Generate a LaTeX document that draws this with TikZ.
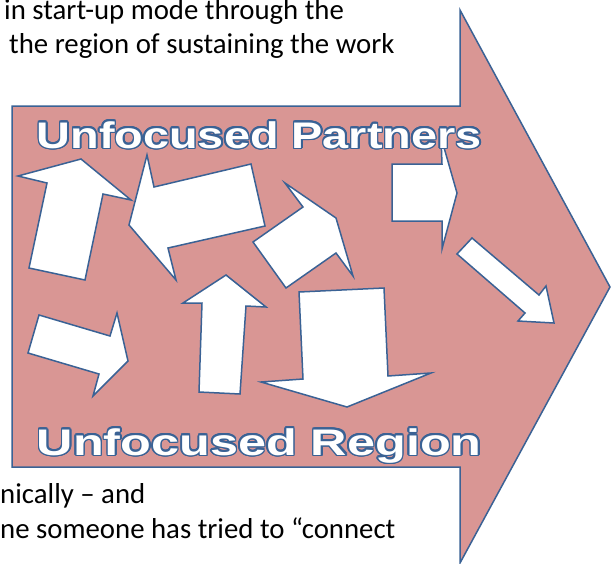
\documentclass[tikz,border=0pt]{standalone}
\usepackage{fontspec}
\usepackage{graphicx}
\setmainfont{Carlito}
\newfontfamily\wafont{Liberation Sans}
\definecolor{pinkfill}{HTML}{D99694}
\definecolor{outl}{HTML}{3A6295}
\newcommand\outlinedtext[1]{%
  \foreach \a in {0,22.5,...,337.5}{%
    \pgfmathsetmacro\wadx{1.5*cos(\a)}%
    \pgfmathsetmacro\wady{1.5*sin(\a)}%
    \rlap{\hspace*{\wadx pt}\raisebox{\wady pt}{\color{outl}#1}}%
  }%
  {\color{white}#1}}
\begin{document}
\begin{tikzpicture}[x=1pt,y=-1pt,
  blockarrow/.style={fill=white,draw=outl,line width=1.5pt,line join=miter},
  bigarrow/.style={fill=pinkfill,draw=outl,line width=1.5pt,line join=miter},
  bodytext/.style={anchor=base west,inner sep=0pt,font=\fontsize{28.8}{34}\selectfont},
  wordart/.style={anchor=base west,inner sep=0pt,font=\wafont\bfseries\fontsize{37}{40}\selectfont}]
\path[fill=white] (0,0) rectangle (616,563);
\useasboundingbox (0,0) rectangle (616,563);
% big arrow
\draw[bigarrow] (12,106) -- (460,106) -- (460,10) -- (610,287) -- (460,563) -- (460,467) -- (12,467) -- cycle;
% small arrows
\draw[blockarrow] (18,176) -- (81,159) -- (131,200) -- (103,194) -- (85,280) -- (29,268) -- (47,183) -- cycle;
\draw[blockarrow] (147,155) -- (154,187) -- (251,164) -- (265,226) -- (168,248) -- (176,280) -- (129,225) -- cycle;
\draw[blockarrow] (285,183) -- (336,218) -- (353,276) -- (336,253) -- (286,288) -- (253,242) -- (303,207) -- cycle;
\draw[blockarrow] (392,164) -- (442,164) -- (441,137) -- (457,193) -- (442,249) -- (442,221) -- (392,221) -- cycle;
\draw[blockarrow] (457,254) -- (472,238) -- (539,295) -- (546,286) -- (554,323) -- (518,321) -- (525,313) -- cycle;
\draw[blockarrow] (39,315) -- (110,336) -- (117,313) -- (128,361) -- (93,396) -- (99,374) -- (28,353) -- cycle;
\draw[blockarrow] (226,275) -- (266,307) -- (246,306) -- (240,394) -- (199,392) -- (202,303) -- (183,303) -- cycle;
\draw[blockarrow] (299,292) -- (384,288) -- (388,376) -- (431,373) -- (347,407) -- (261,382) -- (303,379) -- cycle;
% word art
\node[wordart] (wa1) at (36.5,148) {\outlinedtext{\resizebox{445pt}{\height}{Unfocused Partners}}};
\node[wordart] (wa2) at (36.5,455) {\outlinedtext{\resizebox{445pt}{\height}{Unfocused Region}}};
% body text
\node[bodytext] (t1) at (4,19) {in start-up mode through the};
\node[bodytext] (t2) at (9,53) {the region of sustaining the work};
\node[bodytext] (t3) at (0,503) {nically – and};
\node[bodytext] (t4) at (0,538) {ne someone has tried to “connect};
\end{tikzpicture}
\end{document}
